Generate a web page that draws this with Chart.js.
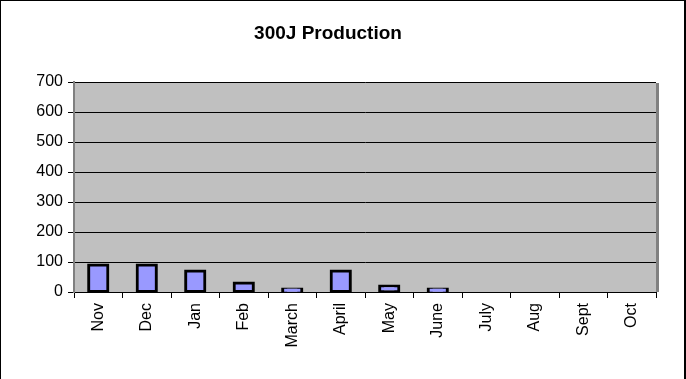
<!DOCTYPE html>
<html>
<head>
<meta charset="utf-8">
<script src="https://cdn.jsdelivr.net/npm/chart.js@4/dist/chart.umd.min.js"></script>
<style>
  html, body { margin: 0; padding: 0; background: #fff; }
  #wrap { width: 686px; height: 379px; position: relative; }
</style>
</head>
<body>
<div id="wrap"><canvas id="chart"></canvas></div>
<script>
// 300J production per month
const months = ['Nov', 'Dec', 'Jan', 'Feb', 'March', 'April', 'May', 'June', 'July', 'Aug', 'Sept', 'Oct'];
const production = [90, 90, 70, 30, 10, 70, 20, 10, 0, 0, 0, 0];
const yTicks = [0, 100, 200, 300, 400, 500, 600, 700];

const fontFamily = "'Liberation Sans', Arial, sans-serif";

// grey plot area + the excel style frame
const plotArea = {
    id: 'plotArea',
    beforeDraw(chart) {
        const { ctx, chartArea: a } = chart;
        ctx.save();
        ctx.fillStyle = '#c0c0c0';
        ctx.fillRect(a.left, a.top, a.right - a.left, a.bottom - a.top);
        ctx.restore();
    },
    afterDraw(chart) {
        const { ctx, chartArea: a, width } = chart;
        ctx.save();
        // shadow on right side of plot area
        ctx.fillStyle = '#808080';
        ctx.fillRect(a.right, a.top + 1, 3, a.bottom - a.top - 1);
        // outer border
        ctx.fillStyle = '#000';
        ctx.fillRect(0, 0, 1, chart.height);
        ctx.fillRect(0, 0, width - 1, 1);
        ctx.fillRect(684, 0, 2, chart.height);
        ctx.restore();
    }
};

new Chart(document.getElementById('chart'), {
    type: 'bar',
    data: {
        labels: months,
        datasets: [{
            label: '300J',
            data: production,
            backgroundColor: '#9999ff',
            borderColor: '#000',
            borderWidth: 3,
            borderSkipped: false,
            inflateAmount: 1.5,
            categoryPercentage: 0.9,
            barPercentage: 0.44
        }]
    },
    options: {
        responsive: true,
        maintainAspectRatio: false,
        animation: false,
        layout: { padding: { left: 0, right: 30, top: 0, bottom: 0 } },
        plugins: {
            legend: { display: false },
            tooltip: { enabled: false },
            title: {
                display: true,
                text: '300J Production',
                color: '#000',
                font: { family: fontFamily, size: 19, weight: 'bold' },
                padding: { top: 22.6, bottom: 36.6 }
            }
        },
        scales: {
            x: {
                offset: true,
                grid: {
                    offset: true,
                    drawOnChartArea: false,
                    color: '#000',
                    tickLength: 6
                },
                border: { color: '#000', width: 1 },
                ticks: {
                    color: '#000',
                    font: { family: fontFamily, size: 16 },
                    minRotation: 90,
                    maxRotation: 90,
                    padding: 5,
                    autoSkip: false
                },
                afterFit(scale) { scale.height = 87; }
            },
            y: {
                min: yTicks[0],
                max: yTicks[yTicks.length - 1],
                afterBuildTicks(scale) {
                    scale.ticks = yTicks.map(v => ({ value: v }));
                },
                grid: {
                    color: '#000',
                    tickLength: 6
                },
                border: { color: '#808080', width: 2 },
                ticks: {
                    color: '#000',
                    font: { family: fontFamily, size: 16 },
                    padding: 5
                },
                afterFit(scale) { scale.width = 74; }
            }
        }
    },
    plugins: [plotArea]
});
</script>
</body>
</html>
